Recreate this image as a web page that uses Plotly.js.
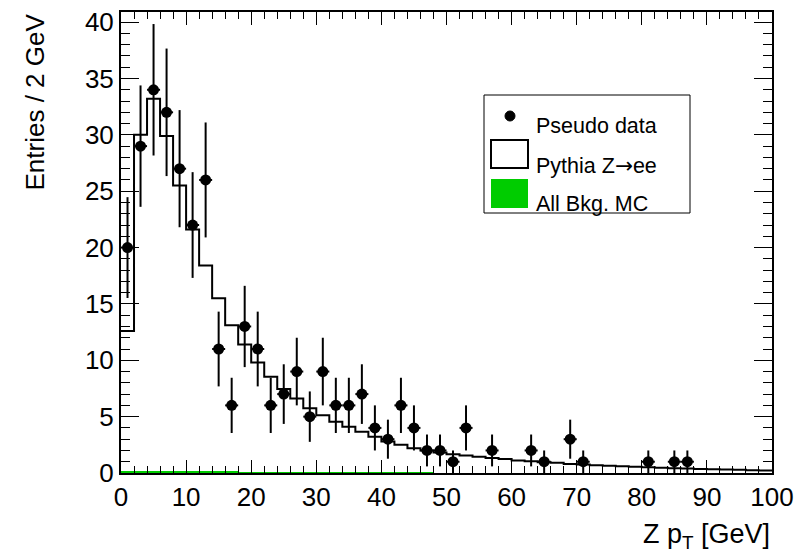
<!DOCTYPE html>
<html>
<head>
<meta charset="utf-8">
<script src="https://cdn.plot.ly/plotly-3.0.1.min.js"></script>
<style>html,body{margin:0;padding:0;background:#fff;}#chart{width:798px;height:556px;}</style>
</head>
<body>
<div id="chart"></div>
<script>
// Pseudo data: bin centres (GeV) and entries (empty bins omitted)
const dataX = [1,3,5,7,9,11,13,15,17,19,21,23,25,27,29,31,33,35,37,39,41,43,45,47,49,51,53,57,63,65,69,71,81,85,87];
const dataY = [20,29,34,32,27,22,26,11,6,13,11,6,7,9,5,9,6,6,7,4,3,6,4,2,2,1,4,2,2,1,3,1,1,1,1];

// Pythia Z->ee MC, 2 GeV bins from 0 to 100
const mcY = [12.6,30.0,33.2,29.9,25.5,21.6,18.4,15.5,13.1,11.4,
             9.8,8.55,7.45,6.6,5.75,5.12,4.55,4.1,3.67,3.22,
             2.8,2.5,2.2,2.0,1.82,1.67,1.55,1.45,1.32,1.25,
             1.12,1.05,0.95,0.9,0.8,0.75,0.68,0.64,0.6,0.56,
             0.5,0.47,0.43,0.4,0.36,0.33,0.3,0.28,0.25,0.22];

// All background MC (tiny), same binning
const bkgY = [0.22,0.22,0.2,0.2,0.2,0.18,0.18,0.16,0.15,0.13,
              0.12,0.1,0.1,0.09,0.08,0.08,0.07,0.07,0.06,0.06,
              0.05,0.05,0.05,0.05,0.04,0.04,0.04,0.04,0.04,0.03,
              0.03,0.03,0.03,0.03,0.03,0.03,0.02,0.02,0.02,0.02,
              0.02,0.02,0.02,0.02,0.02,0.02,0.02,0.02,0.02,0.02];

const binWidth = 2;
const binLo = mcY.map((_, i) => i * binWidth);
const binCentres = binLo.map(v => v + binWidth / 2);
const stepX = binLo.concat([binLo[binLo.length - 1] + binWidth]);
const stepY = mcY.concat([mcY[mcY.length - 1]]);

const font = 'Liberation Sans, Arial, Helvetica, sans-serif';

const traces = [
  {
    type: 'bar', x: binCentres, y: bkgY, width: binWidth,
    marker: {color: '#00cc00', line: {width: 0}}, showlegend: false, hoverinfo: 'skip'
  },
  {
    type: 'scatter', mode: 'lines', x: stepX, y: stepY,
    line: {shape: 'hv', color: '#000', width: 2}, showlegend: false
  },
  {
    type: 'scatter', mode: 'markers', x: dataX, y: dataY,
    marker: {color: '#000', size: 11, symbol: 'circle'},
    error_y: {type: 'data', array: dataY.map(v => Math.sqrt(v)), color: '#000', thickness: 2, width: 0},
    error_x: {type: 'constant', value: 1, color: '#000', thickness: 2, width: 0},
    showlegend: false
  }
];

const px = v => (v - 121) / 651;       // paper x from pixel
const py = v => (473 - v) / 461;       // paper y from pixel

const layout = {
  width: 798, height: 556,
  margin: {l: 121, r: 26, t: 12, b: 83},
  paper_bgcolor: '#fff', plot_bgcolor: '#fff',
  showlegend: false,
  bargap: 0,
  font: {family: font, size: 26, color: '#000'},
  xaxis: {
    range: [0, 100], dtick: 10, tick0: 0,
    ticks: 'inside', ticklen: 13, tickwidth: 1, tickcolor: '#000',
    minor: {dtick: 2, ticks: 'inside', ticklen: 7, tickcolor: '#000', tickwidth: 1},
    showline: true, linecolor: '#000', linewidth: 2, mirror: 'ticks',
    showgrid: false, zeroline: false,
    tickfont: {family: font, size: 26, color: '#000'}
  },
  yaxis: {
    range: [0, 40.9], dtick: 5, tick0: 0,
    ticks: 'inside', ticklen: 18, tickwidth: 1, tickcolor: '#000',
    minor: {dtick: 1, ticks: 'inside', ticklen: 9, tickcolor: '#000', tickwidth: 1},
    showline: true, linecolor: '#000', linewidth: 2, mirror: 'ticks',
    showgrid: false, zeroline: false,
    tickfont: {family: font, size: 26, color: '#000'}
  },
  shapes: [
    {type: 'rect', xref: 'paper', yref: 'paper', x0: px(484), x1: px(690), y0: py(213), y1: py(95),
     line: {color: '#000', width: 1}, fillcolor: 'rgba(255,255,255,1)', layer: 'above'},
    {type: 'circle', xref: 'paper', yref: 'paper', x0: px(505), x1: px(515), y0: py(121), y1: py(111),
     line: {color: '#000', width: 1}, fillcolor: '#000', layer: 'above'},
    {type: 'rect', xref: 'paper', yref: 'paper', x0: px(491), x1: px(528), y0: py(168), y1: py(140),
     line: {color: '#000', width: 2}, fillcolor: '#fff', layer: 'above'},
    {type: 'rect', xref: 'paper', yref: 'paper', x0: px(491), x1: px(528), y0: py(208), y1: py(179),
     line: {width: 0}, fillcolor: '#00cc00', layer: 'above'}
  ],
  annotations: [
    {xref: 'paper', yref: 'paper', x: px(534), y: py(126), xanchor: 'left', yanchor: 'middle',
     text: 'Pseudo data', showarrow: false, font: {family: font, size: 21.5, color: '#000'}},
    {xref: 'paper', yref: 'paper', x: px(534), y: py(166), xanchor: 'left', yanchor: 'middle',
     text: 'Pythia Z<span style="font-family:DejaVu Sans">\u2192</span>ee', showarrow: false, font: {family: font, size: 21.5, color: '#000'}},
    {xref: 'paper', yref: 'paper', x: px(534), y: py(204), xanchor: 'left', yanchor: 'middle',
     text: 'All Bkg. MC', showarrow: false, font: {family: font, size: 21.5, color: '#000'}},
    {xref: 'paper', yref: 'paper', x: 1, y: py(536), xanchor: 'right', yanchor: 'middle',
     text: 'Z p<sub>T</sub> [GeV]', showarrow: false, font: {family: font, size: 27, color: '#000'}},
    {xref: 'paper', yref: 'paper', x: px(34), y: py(12), xanchor: 'center', yanchor: 'top',
     textangle: -90, text: 'Entries / 2 GeV', showarrow: false, font: {family: font, size: 26, color: '#000'}}
  ]
};

Plotly.newPlot('chart', traces, layout, {staticPlot: true, displayModeBar: false});
</script>
</body>
</html>
